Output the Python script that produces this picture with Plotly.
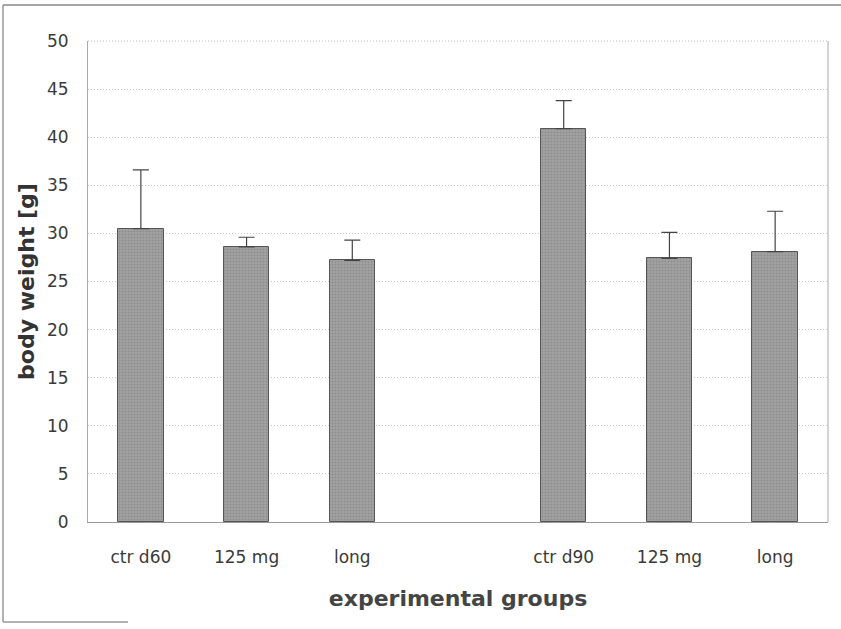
import plotly.graph_objects as go

# Data
categories = ["ctr d60", "125 mg", "long", "", "ctr d90", "125 mg", "long"]
positions = [0, 1, 2, 3, 4, 5, 6]
bar_pos = [0, 1, 2, 4, 5, 6]
means = [30.5, 28.6, 27.2, 40.9, 27.4, 28.1]
errors = [6.1, 1.0, 2.1, 2.9, 2.7, 4.2]
y_ticks = [0, 5, 10, 15, 20, 25, 30, 35, 40, 45, 50]

W, H = 841, 629
ml, mr, mt, mb = 88, 13, 41, 107

fig = go.Figure()
fig.add_trace(go.Bar(
    x=bar_pos, y=means, width=0.43,
    marker=dict(color="#9a9a9a", line=dict(color="#555555", width=1),
                pattern=dict(shape=".", fgcolor="#767676", bgcolor="#a2a2a2", size=3, solidity=0.35)),
    error_y=dict(type="data", array=errors, arrayminus=[0]*len(errors), symmetric=False,
                 color="#444444", thickness=1.2, width=8),
    showlegend=False,
))

font_family = "DejaVu Sans, sans-serif"
fig.update_layout(
    width=W, height=H,
    margin=dict(l=ml, r=mr, t=mt, b=mb),
    paper_bgcolor="white", plot_bgcolor="white",
    font=dict(family=font_family, color="#333333", size=17),
    bargap=0,
    xaxis=dict(
        tickmode="array", tickvals=positions, ticktext=categories,
        range=[-0.5, 6.5], showgrid=False, zeroline=False,
        showline=True, linecolor="#999999", linewidth=1,
        ticks="", ticklabelstandoff=20, automargin=False,
        tickfont=dict(size=17, color="#3a3a3a"),
        title=dict(text="<b>experimental groups</b>", font=dict(size=22, color="#444444"), standoff=24),
    ),
    yaxis=dict(
        tickmode="array", tickvals=y_ticks, range=[0, 50],
        showgrid=True, gridcolor="#c8c8c8", griddash="1px,2px", gridwidth=1,
        zeroline=False, showline=True, linecolor="#aaaaaa", linewidth=1, mirror=False,
        ticks="", ticklabelstandoff=15, automargin=False,
        tickfont=dict(size=17, color="#3a3a3a"),
        title=dict(text="<b>body weight [g]</b>", font=dict(size=22, color="#333333"), standoff=6),
    ),
)

pw = W - ml - mr
ph = H - mt - mb
def px(x): return (x - ml) / pw
def py(y): return (H - mb - y) / ph

shapes = [
    # right border of plot area
    dict(type="line", xref="paper", yref="paper", x0=1, x1=1, y0=0, y1=1,
         line=dict(color="#aaaaaa", width=1)),
    # top border of plot area (dotted)
    dict(type="line", xref="paper", yref="paper", x0=0, x1=1, y0=1, y1=1,
         line=dict(color="#bbbbbb", width=1, dash="1px,2px")),
    # outer frame (scanned figure border)
    dict(type="line", xref="paper", yref="paper", x0=px(3), x1=px(3), y0=py(5), y1=py(622),
         line=dict(color="#999999", width=1.5)),
    dict(type="line", xref="paper", yref="paper", x0=px(3), x1=px(845), y0=py(5), y1=py(5),
         line=dict(color="#888888", width=1.5)),
    dict(type="line", xref="paper", yref="paper", x0=px(3), x1=px(128), y0=py(622), y1=py(622),
         line=dict(color="#999999", width=1.5)),
]
fig.update_layout(shapes=shapes)

fig.write_html("out.html", config={"displayModeBar": False},
               post_script="document.body.style.margin='0';")
